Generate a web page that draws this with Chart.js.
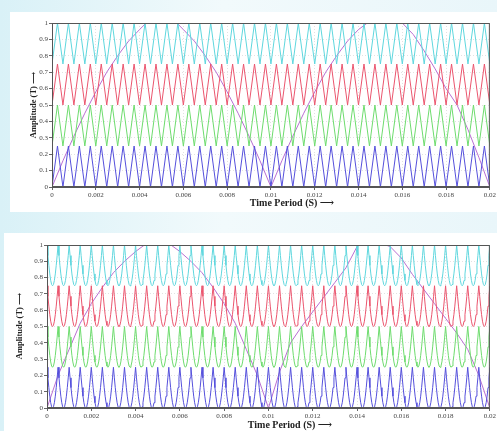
<!DOCTYPE html>
<html>
<head>
<meta charset="utf-8">
<script src="https://cdn.jsdelivr.net/npm/chart.js@4.4.1/dist/chart.umd.min.js"></script>
<style>
  html, body { margin: 0; padding: 0; }
  body { width: 497px; height: 431px; position: relative; overflow: hidden;
         background: linear-gradient(90deg, #d9f1f7 0%, #f2fafc 45%, #e9f6fa 100%); }
  .panel { position: absolute; background: #fff; }
  canvas { position: absolute; }
</style>
</head>
<body>
<div class="panel" style="left:10px;top:12px;width:487px;height:200px"></div>
<div class="panel" style="left:4px;top:233px;width:493px;height:198px"></div>
<canvas id="pdChart" width="497" height="212" style="left:0;top:0"></canvas>
<canvas id="isChart" width="497" height="209" style="left:0;top:222px"></canvas>
<script>
// axis ticks
var xTicks = [0, 0.002, 0.004, 0.006, 0.008, 0.01, 0.012, 0.014, 0.016, 0.018, 0.02];
var yTicks = [0, 0.1, 0.2, 0.3, 0.4, 0.5, 0.6, 0.7, 0.8, 0.9, 1];

// carrier bands (bottom to top)
var bandLow  = [0, 0.25, 0.5, 0.75];
var bandHigh = [0.25, 0.5, 0.75, 1];
var bandColors = ["rgb(85,80,220)", "rgb(110,220,110)", "rgb(235,85,110)", "rgb(95,215,222)"];
var carrierCycles = 40;
var carrierPeriod = 0.0005;
// one carrier cycle, as fraction of the band height
var triangleCycle = [0, 1];
var invSineCycle = [1, 0.74, 0.5, 0.29, 0.13, 0.03, 0, 0.03, 0.13, 0.29, 0.5, 0.74];

// reference (modulating) wave, top chart
var refTimeTop = [0, 0.0005, 0.001, 0.0015, 0.002, 0.0025, 0.003, 0.0035, 0.004, 0.0043,
  0.0057, 0.006, 0.0065, 0.007, 0.0075, 0.008, 0.0085, 0.009, 0.0095, 0.01,
  0.0105, 0.011, 0.0115, 0.012, 0.0125, 0.013, 0.0135, 0.014, 0.0144,
  0.016, 0.0165, 0.017, 0.0175, 0.018, 0.0185, 0.019, 0.0195, 0.02];
var refValTop = [0, 0.16, 0.31, 0.45, 0.58, 0.7, 0.8, 0.89, 0.96, 1,
  1, 0.96, 0.89, 0.8, 0.7, 0.58, 0.45, 0.31, 0.16, 0,
  0.16, 0.31, 0.45, 0.58, 0.7, 0.8, 0.89, 0.96, 1,
  1, 0.93, 0.83, 0.72, 0.6, 0.5, 0.35, 0.18, 0];

// reference wave, bottom chart
var refTimeBottom = [0, 0.0005, 0.001, 0.0015, 0.002, 0.0025, 0.003, 0.0035, 0.004, 0.0044,
  0.0056, 0.006, 0.0065, 0.007, 0.0075, 0.008, 0.0085, 0.009, 0.0095, 0.01,
  0.0105, 0.011, 0.0115, 0.012, 0.0125, 0.013, 0.0135, 0.014, 0.0141,
  0.0153, 0.0155, 0.016, 0.0165, 0.017, 0.0175, 0.018, 0.0185, 0.019, 0.0195, 0.02];
var refValBottom = [0, 0.2, 0.36, 0.52, 0.64, 0.74, 0.83, 0.9, 0.96, 1,
  1, 0.96, 0.9, 0.83, 0.74, 0.64, 0.52, 0.36, 0.2, 0,
  0.22, 0.4, 0.5, 0.59, 0.68, 0.77, 0.86, 0.99, 1,
  1, 0.99, 0.92, 0.82, 0.73, 0.64, 0.55, 0.46, 0.36, 0.2, 0];
var refColor = "rgb(185,110,210)";

var serif = '"Liberation Serif", "DejaVu Serif", serif';

function carrierPoints(cycle, low, high) {
  var pts = [];
  var step = carrierPeriod / cycle.length;
  for (var c = 0; c < carrierCycles; c++) {
    cycle.forEach(function(f, i) {
      pts.push({x: (c * cycle.length + i) * step, y: low + f * (high - low)});
    });
  }
  pts.push({x: carrierCycles * carrierPeriod, y: low + cycle[0] * (high - low)});
  return pts;
}

function buildData(cycle, refT, refV) {
  var sets = bandLow.map(function(lo, i) {
    return {
      data: carrierPoints(cycle, lo, bandHigh[i]),
      borderColor: bandColors[i], borderWidth: 1, pointRadius: 0, tension: 0
    };
  });
  sets.push({
    data: refT.map(function(t, i) { return {x: t, y: refV[i]}; }),
    borderColor: refColor, borderWidth: 1, pointRadius: 0, tension: 0
  });
  return {datasets: sets};
}

var framePlugin = {
  id: "frameAndTitles",
  afterDatasetsDraw: function(chart, args, opts) {
    var a = chart.chartArea, ctx = chart.ctx;
    ctx.save();
    ctx.strokeStyle = "#555";
    ctx.lineWidth = 1;
    ctx.strokeRect(a.left + 0.5, a.top + 0.5, a.right - a.left - 1, a.bottom - a.top - 1);
    ctx.fillStyle = "#222";
    ctx.textAlign = "center";
    ctx.textBaseline = "middle";
    ctx.font = "bold 10px " + serif;
    ctx.fillText(opts.xTitle, opts.xPos[0], opts.xPos[1]);
    ctx.translate(opts.yPos[0], opts.yPos[1]);
    ctx.rotate(-Math.PI / 2);
    ctx.font = "bold 8.5px " + serif;
    ctx.fillText(opts.yTitle, 0, 0);
    ctx.restore();
  }
};

function makeOptions(yWidth, xHeight, rightPad, xPos, yPos) {
  return {
    responsive: false,
    devicePixelRatio: 1,
    animation: false,
    parsing: false,
    layout: {padding: {top: 23, right: rightPad, left: 0, bottom: 0}},
    plugins: {
      legend: {display: false},
      tooltip: {enabled: false},
      frameAndTitles: {
        xTitle: "Time Period (S) \u27F6", yTitle: "Amplitude (T) \u27F6",
        xPos: xPos, yPos: yPos
      }
    },
    scales: {
      x: {
        type: "linear", min: 0, max: 0.02,
        afterBuildTicks: function(s) { s.ticks = xTicks.map(function(v) { return {value: v}; }); },
        afterFit: function(s) { s.height = xHeight; },
        ticks: {
          autoSkip: false, maxRotation: 0, padding: 1, color: "#444",
          font: {family: serif, size: 7},
          callback: function(v) { return String(+v.toFixed(3)); }
        },
        grid: {color: "rgba(110,110,110,0.2)", tickLength: 3, tickColor: "#666"},
        border: {color: "#555", dash: [1, 2]}
      },
      y: {
        min: 0, max: 1,
        afterBuildTicks: function(s) { s.ticks = yTicks.map(function(v) { return {value: v}; }); },
        afterFit: function(s) { s.width = yWidth; },
        ticks: {
          autoSkip: false, padding: 1, color: "#444",
          font: {family: serif, size: 7},
          callback: function(v) { return String(+v.toFixed(1)); }
        },
        grid: {color: "rgba(110,110,110,0.2)", tickLength: 3, tickColor: "#666"},
        border: {color: "#555", dash: [1, 2]}
      }
    }
  };
}

new Chart(document.getElementById("pdChart").getContext("2d"), {
  type: "line",
  data: buildData(triangleCycle, refTimeTop, refValTop),
  options: makeOptions(52, 25, 4, [292, 203], [34, 105]),
  plugins: [framePlugin]
});

new Chart(document.getElementById("isChart").getContext("2d"), {
  type: "line",
  data: buildData(invSineCycle, refTimeBottom, refValBottom),
  options: makeOptions(47, 23, 3, [290, 203], [20, 104]),
  plugins: [framePlugin]
});
</script>
</body>
</html>
